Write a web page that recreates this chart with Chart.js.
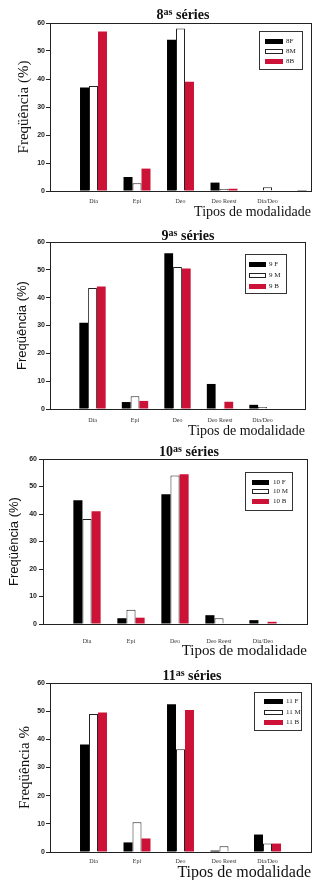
<!DOCTYPE html>
<html>
<head>
<meta charset="utf-8">
<script src="https://cdn.jsdelivr.net/npm/chart.js@4.4.1/dist/chart.umd.min.js"></script>
<style>
  body { margin: 0; background: #fff; }
  #wrap { position: relative; width: 321px; height: 880px; overflow: hidden; }
  .panel { position: absolute; left: 0; width: 321px; height: 220px; }
  .panel canvas { position: absolute; left: 0; top: 0; }
  .ttl { position: absolute; transform: translate(-50%, -50%); font: bold 14px "Liberation Serif", serif; color: #111; white-space: nowrap; }
  .ttl sup { font-size: 10px; vertical-align: 4px; }
  .leg { position: absolute; border: 1px solid #333; background: #fff; box-sizing: border-box; }
  .leg .sw { position: absolute; height: 5px; box-sizing: border-box; }
  .leg .tx { position: absolute; font: 7px "Liberation Serif", serif; color: #222; line-height: 8px; white-space: nowrap; }
</style>
</head>
<body>
<div id="wrap"></div>
<script>
// categories (first and last slots are empty, as in the original axes)
const categories = ["", "Dia", "Epi", "Deo", "Deo Reest", "Dia/Deo", ""];
const yTicks = [0, 10, 20, 30, 40, 50, 60];

// 8as series
const s8F = [0, 37, 5, 54, 3, 0, 0.3];
const s8M = [0, 37.5, 2.8, 58, 0.7, 1.3, 0];
const s8B = [0, 57, 8, 39, 0.8, 0, 0];
const legend8 = ["8F", "8M", "8B"];

// 9as series
const s9F = [0, 31, 2.5, 56, 9, 1.5, 0];
const s9M = [0, 43.5, 4.6, 51, 0.3, 0.7, 0];
const s9B = [0, 44, 2.9, 50.5, 2.6, 0, 0];
const legend9 = ["9 F", "9 M", "9 B"];

// 10as series
const s10F = [0, 45, 2.1, 47.2, 3.2, 1.4, 0];
const s10M = [0, 38.2, 5.2, 54, 2.1, 0, 0];
const s10B = [0, 41, 2.3, 54.5, 0, 0.8, 0];
const legend10 = ["10 F", "10 M", "10 B"];

// 11as series
const s11F = [0, 38.2, 3.4, 52.5, 0.5, 6.2, 0];
const s11M = [0, 49, 10.6, 36.5, 2, 3, 0];
const s11B = [0, 49.5, 4.8, 50.4, 0, 3, 0];
const legend11 = ["11 F", "11 M", "11 B"];

const RED = "#cc1236";
const fills = ["#000", "#fff", RED];
const borders = ["#000", "#222", RED];

// panel layout
const panels = [
    { top: 0, num: "8", series: [s8F, s8M, s8B], names: legend8,
      padTop: 23, padRight: 10, yWidth: 50, xHeight: 29, xTickPad: 7, xTitleFont: 14, xTitlePad: 0,
      yTitle: "Freqüência (%)", yTitleFont: { family: "Liberation Serif", size: 15 }, yTitlePad: 15, yTickPad: 1,
      tX: 183, tY: 14,
      leg: { x: 259, y: 31, w: 44, h: 39, sx: 5, sw: 18, tx: 26, rows: [41, 51, 61] } },
    { top: 220, num: "9", series: [s9F, s9M, s9B], names: legend9,
      padTop: 22, padRight: 16, yWidth: 50, xHeight: 31, xTickPad: 8, xTitleFont: 14, xTitlePad: 1,
      yTitle: "Freqüência (%)", yTitleFont: { family: "Liberation Sans", size: 13 }, yTitlePad: 15, yTickPad: 1,
      tX: 188, tY: 15,
      leg: { x: 245, y: 34, w: 42, h: 40, sx: 3, sw: 17, tx: 23, rows: [44, 55, 66] } },
    { top: 440, num: "10", series: [s10F, s10M, s10B], names: legend10,
      padTop: 19, padRight: 9, yWidth: 43, xHeight: 36, xTickPad: 14, xTitleFont: 15, xTitlePad: 1,
      yTitle: "Freqüência (%)", yTitleFont: { family: "Liberation Sans", size: 13 }, yTitlePad: 7, yTickPad: 2,
      tX: 189, tY: 11,
      leg: { x: 245, y: 32, w: 48, h: 39, sx: 6, sw: 17, tx: 27, rows: [42, 51, 61] } },
    { top: 660, num: "11", series: [s11F, s11M, s11B], names: legend11,
      padTop: 23, padRight: 10, yWidth: 50, xHeight: 28, xTickPad: 6, xTitleFont: 16, xTitlePad: -2,
      yTitle: "Freqüência %", yTitleFont: { family: "Liberation Serif", size: 15 }, yTitlePad: 16, yTickPad: 1,
      tX: 192, tY: 15,
      leg: { x: 254, y: 32, w: 48, h: 39, sx: 9, sw: 19, tx: 31, rows: [41, 52, 62] } }
];

// draws the box around the plot area
const framePlugin = {
    id: "frame",
    afterDatasetsDraw(chart) {
        const { ctx, chartArea: a } = chart;
        ctx.save();
        ctx.strokeStyle = "#222";
        ctx.lineWidth = 1;
        ctx.strokeRect(Math.round(a.left) + 0.5, Math.round(a.top) + 0.5,
            Math.round(a.right - a.left), Math.round(a.bottom - a.top));
        ctx.restore();
    }
};

const wrap = document.getElementById("wrap");

panels.forEach(p => {
    const div = document.createElement("div");
    div.className = "panel";
    div.style.top = p.top + "px";
    wrap.appendChild(div);

    const canvas = document.createElement("canvas");
    canvas.width = 321;
    canvas.height = 220;
    div.appendChild(canvas);

    // title with superscript
    const ttl = document.createElement("div");
    ttl.className = "ttl";
    ttl.style.left = p.tX + "px";
    ttl.style.top = p.tY + "px";
    ttl.innerHTML = p.num + "<sup>as</sup> séries";
    div.appendChild(ttl);

    // legend box
    const leg = document.createElement("div");
    leg.className = "leg";
    leg.style.left = p.leg.x + "px";
    leg.style.top = p.leg.y + "px";
    leg.style.width = p.leg.w + "px";
    leg.style.height = p.leg.h + "px";
    p.names.forEach((name, i) => {
        const sw = document.createElement("span");
        sw.className = "sw";
        sw.style.left = p.leg.sx + "px";
        sw.style.width = p.leg.sw + "px";
        sw.style.top = (p.leg.rows[i] - p.leg.y - 3.5) + "px";
        sw.style.background = fills[i];
        sw.style.border = "1px solid " + borders[i];
        leg.appendChild(sw);
        const tx = document.createElement("span");
        tx.className = "tx";
        tx.style.left = p.leg.tx + "px";
        tx.style.top = (p.leg.rows[i] - p.leg.y - 5) + "px";
        tx.textContent = name;
        leg.appendChild(tx);
    });

    new Chart(canvas.getContext("2d"), {
        type: "bar",
        data: {
            labels: categories,
            datasets: p.series.map((vals, i) => ({
                label: p.names[i],
                data: vals,
                backgroundColor: fills[i],
                borderColor: borders[i],
                borderWidth: i === 1 ? 1 : 0,
                borderSkipped: "bottom",
                categoryPercentage: 0.62,
                barPercentage: 1.0
            }))
        },
        options: {
            responsive: false,
            animation: false,
            events: [],
            layout: { padding: { top: p.padTop, right: p.padRight, left: 0, bottom: 0 } },
            plugins: {
                legend: { display: false },
                tooltip: { enabled: false }
            },
            scales: {
                x: {
                    type: "category",
                    offset: false,
                    grid: { display: false, drawTicks: false },
                    border: { display: true, color: "#222", width: 1 },
                    ticks: {
                        autoSkip: false,
                        maxRotation: 0,
                        padding: p.xTickPad,
                        color: "#333",
                        font: { family: "Liberation Serif", size: 6 }
                    },
                    title: {
                        display: true,
                        text: "Tipos de modalidade",
                        align: "end",
                        color: "#111",
                        font: { family: "Liberation Serif", size: p.xTitleFont, lineHeight: 1.1 },
                        padding: { top: 0, bottom: p.xTitlePad }
                    },
                    afterFit(scale) { scale.height = p.xHeight; }
                },
                y: {
                    min: yTicks[0],
                    max: yTicks[yTicks.length - 1],
                    afterBuildTicks(scale) { scale.ticks = yTicks.map(v => ({ value: v })); },
                    grid: { drawOnChartArea: false, drawTicks: true, tickLength: 4, color: "#222" },
                    border: { display: true, color: "#222", width: 1 },
                    ticks: {
                        padding: p.yTickPad,
                        color: "#222",
                        font: { family: "Liberation Sans", size: 7, weight: "bold" }
                    },
                    title: {
                        display: true,
                        text: p.yTitle,
                        color: "#111",
                        font: p.yTitleFont,
                        padding: { top: p.yTitlePad, bottom: 0 }
                    },
                    afterFit(scale) { scale.width = p.yWidth; }
                }
            }
        },
        plugins: [framePlugin]
    });

    div.appendChild(leg);
});
</script>
</body>
</html>
